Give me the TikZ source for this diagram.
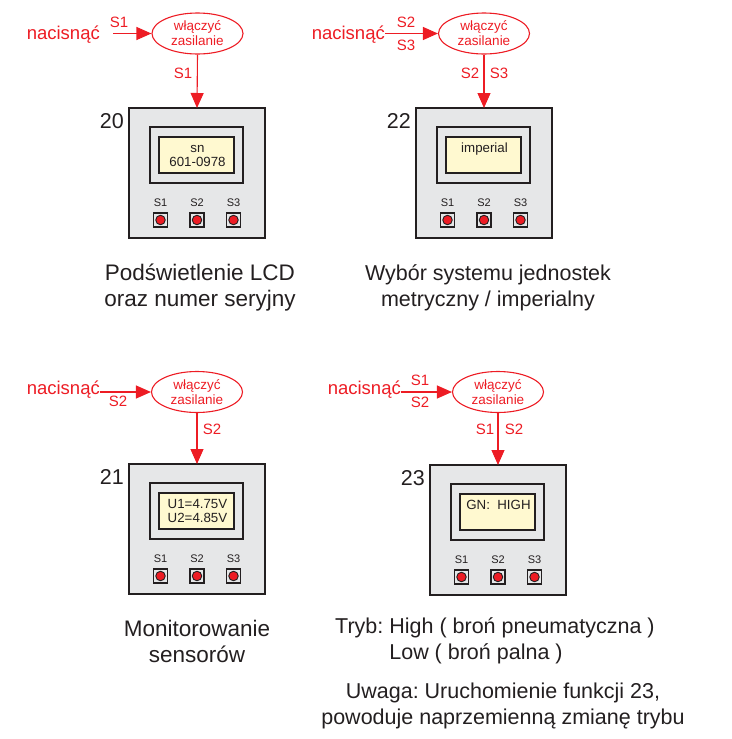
\documentclass[tikz,border=0pt]{standalone}
\usepackage{fontspec}
\setmainfont{Liberation Sans}
\usetikzlibrary{arrows.meta,shapes.geometric}
\frenchspacing
\definecolor{myred}{RGB}{237,28,36}
\definecolor{ink}{RGB}{35,31,32}
\definecolor{panelgray}{RGB}{230,231,232}
\definecolor{lcdfill}{RGB}{255,249,208}
\tikzset{
  ell/.style={ellipse, draw=myred, line width=1.1pt, minimum width=91pt, minimum height=41pt,
    inner sep=0pt, align=center, text=myred, font=\fontsize{13.5}{15}\selectfont},
  presstxt/.style={text=myred, font=\fontsize{18.5}{20}\selectfont, inner sep=0pt},
  slabel/.style={text=myred, font=\fontsize{15}{16}\selectfont, inner sep=0pt},
  redarrow/.style={draw=myred, line width=1.1pt, -{Triangle[length=15pt,width=13pt]}},
  desc/.style={text=ink, font=\fontsize{21.5}{26}\selectfont, align=center, inner sep=0pt},
  descbig/.style={desc, font=\fontsize{22.5}{26}\selectfont},
  devbox/.style={draw=ink, fill=panelgray, line width=1.8pt, minimum width=136pt, minimum height=130pt, inner sep=0pt, outer sep=0pt},
  lcdframe/.style={draw=ink, fill=panelgray, line width=1.8pt, minimum width=93pt, minimum height=56pt, inner sep=0pt},
  lcd/.style={draw=ink, fill=lcdfill, line width=1.5pt, minimum width=75pt, minimum height=36pt, inner sep=0pt},
  lcdtxt/.style={text=ink, font=\fontsize{13.3}{14.5}\selectfont, align=center, inner sep=0pt},
  btn/.style={draw=ink, fill=panelgray, line width=1.3pt, minimum size=14pt, inner sep=0pt},
  led/.style={circle, draw=ink, fill=myred, line width=0.9pt, minimum size=9.5pt, inner sep=0pt},
  btnlabel/.style={text=ink, font=\fontsize{11}{12}\selectfont, inner sep=0pt},
  numlabel/.style={text=ink, font=\fontsize{21.5}{23}\selectfont, inner sep=0pt},
}
% #1 suffix, #2 x, #3 y, #4 number, #5 lcd text, #6 lcd text y
\newcommand\devpanel[6]{%
  \begin{scope}[shift={(#2,#3)}]
    \node[devbox] (box#1) at (68,65) {};
    \node[lcdframe] (frame#1) at (67.5,47) {};
    \node[lcd] (lcd#1) at (67.5,47) {};
    \node[lcdtxt] (lcdt#1) at (68.5,#6) {#5};
    \node[numlabel, anchor=base east] (num#1) at (-5,20) {#4};
    \node[btn] (bA#1) at (31.5,112) {};
    \node[btn] (bB#1) at (68,112) {};
    \node[btn] (bC#1) at (104.5,112) {};
    \node[led] (lA#1) at (bA#1.center) {};
    \node[led] (lB#1) at (bB#1.center) {};
    \node[led] (lC#1) at (bC#1.center) {};
    \node[btnlabel] (sA#1) at (31.5,95) {S1};
    \node[btnlabel] (sB#1) at (68,95) {S2};
    \node[btnlabel] (sC#1) at (104.5,95) {S3};
  \end{scope}}
\begin{document}
\begin{tikzpicture}[x=1pt,y=-1pt]
\useasboundingbox (0,0) rectangle (731,739);

% ---------- panel 20 ----------
\devpanel{20}{129}{108}{20}{sn\\601-0978}{48}
\node[ell] (e20) at (197.5,33.5) {włączyć\\zasilanie};
\node[presstxt, anchor=east] (p20) at (100,35) {nacisnąć};
\coordinate (c20) at (113,33.5);
\draw[redarrow] (c20) -- (e20.west);
\node[slabel] (h20a) at (119,22) {S1};
\draw[redarrow] (e20.south) -- (box20.north);
\node[slabel] (v20a) at (183,73) {S1};
\node[descbig] (d20) at (200,288) {Podświetlenie LCD\\oraz numer seryjny};

% ---------- panel 22 ----------
\devpanel{22}{416}{108}{22}{imperial}{41}
\node[ell] (e22) at (484,33.5) {włączyć\\zasilanie};
\node[presstxt, anchor=east] (p22) at (385,35) {nacisnąć};
\draw[redarrow] (p22.east |- e22.west) -- (e22.west);
\node[slabel] (h22a) at (406,22) {S2};
\node[slabel] (h22b) at (406,45) {S3};
\draw[redarrow] (e22.south) -- (box22.north);
\node[slabel] (v22a) at (470,73) {S2};
\node[slabel] (v22b) at (499,73) {S3};
\node[desc] (d22) at (488,288) {Wybór systemu jednostek\\metryczny / imperialny};

% ---------- panel 21 ----------
\devpanel{21}{129}{464}{21}{U1=4.75V\\U2=4.85V}{47}
\node[ell] (e21) at (197,392) {włączyć\\zasilanie};
\node[presstxt, anchor=east] (p21) at (100,390) {nacisnąć};
\draw[redarrow] (p21.east |- e21.west) -- (e21.west);
\node[slabel] (h21a) at (118,401) {S2};
\draw[redarrow] (e21.south) -- (box21.north);
\node[slabel] (v21a) at (212,429) {S2};
\node[descbig] (d21) at (197,641) {Monitorowanie\\sensorów};

% ---------- panel 23 ----------
\devpanel{23}{430}{465}{23}{GN:\ \ HIGH}{40}
\node[ell] (e23) at (498,392) {włączyć\\zasilanie};
\node[presstxt, anchor=east] (p23) at (401,390) {nacisnąć};
\draw[redarrow] (p23.east |- e23.west) -- (e23.west);
\node[slabel] (h23a) at (420,380) {S1};
\node[slabel] (h23b) at (420,402) {S2};
\draw[redarrow] (e23.south) -- (box23.north);
\node[slabel] (v23a) at (485,429) {S1};
\node[slabel] (v23b) at (514,429) {S2};
\node[desc, align=left, anchor=west] (d23) at (335,641) {Tryb: High ( broń pneumatyczna )\\\phantom{Tryb: }Low ( broń palna )};
\node[desc] (n23) at (503,706) {Uwaga: Uruchomienie funkcji 23,\\powoduje naprzemienną zmianę trybu};
\end{tikzpicture}
\end{document}
